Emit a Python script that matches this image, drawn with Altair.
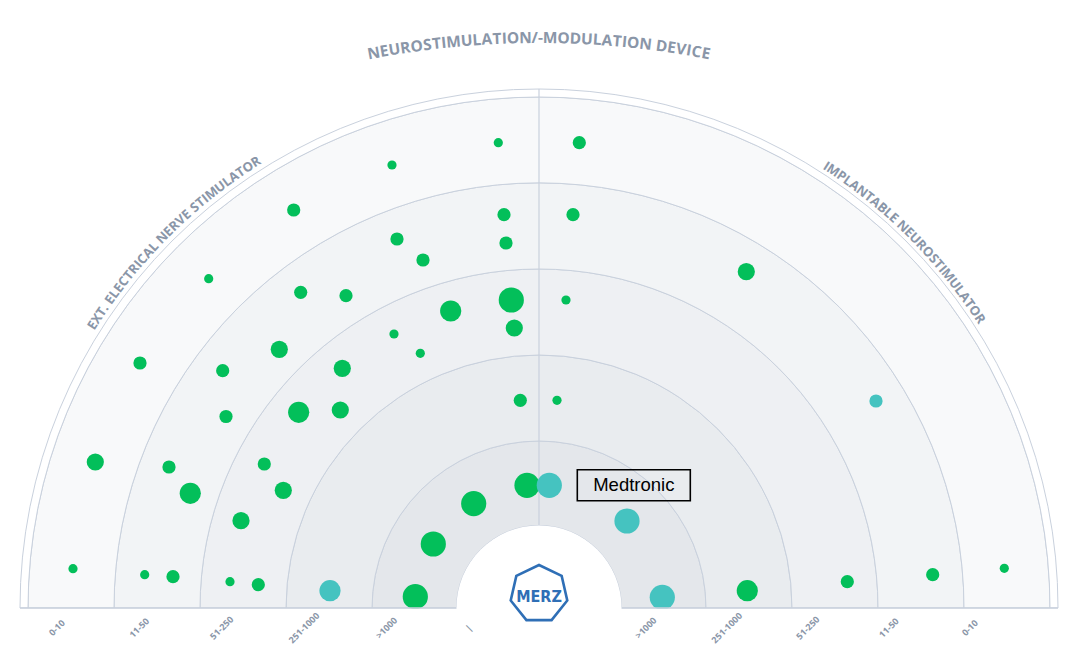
import math
import altair as alt
import pandas as pd

# ------------------------------------------------------------------ data
# bubble positions in chart units (centre of the half-disc = 0,0; y up)
bubble_x = [-40.7, 40.3, -147, -245.3, -35, 34, -142, -33, -116, 207.3,
            -330.3, -238.3, -193, -27.7, 27, -88.3, -24.7, -145, -259.7, -118.7,
            -399, -196.7, -316.3, -18.7, 18, 337, -313, -240.3, -198.7, -443.7,
            -370, -274.7, -12, 10.3, -348.7, -255.7, -65.3, 88, -298, -105.7,
            -466, -394.3, -366, -309, -280.7, -209, -123.7, 123.3, 208.3, 308.3,
            393.7, 465.3]
bubble_y = [465.3, 465.3, 443, 398, 393.3, 393.3, 369, 365, 348, 336.3,
            329.3, 315.7, 312.3, 308, 308, 297, 280, 274, 258.7, 254.7,
            245, 239.7, 237.3, 207.7, 207.7, 207, 191.5, 195.7, 198, 146,
            141, 144, 122.7, 122.7, 114.7, 117.7, 104.3, 87, 87.3, 64,
            39.3, 33.3, 31.3, 26.3, 23.3, 17.3, 11.3, 10.7, 17.3, 26.3,
            33.3, 39.7]
bubble_size = [1, 2, 1, 2, 2, 2, 2, 2, 2, 3,
               1, 2, 2, 5, 1, 4, 3, 1, 3, 1,
               2, 3, 2, 2, 1, 2, 2, 4, 3, 3,
               2, 2, 5, 5, 4, 3, 5, 5, 3, 5,
               1, 1, 2, 1, 2, 4, 5, 5, 4, 2,
               2, 1]
bubble_kind = ["g"] * 52
for i in (25, 33, 37, 45, 47):
    bubble_kind[i] = "t"
bubble_label = [""] * 52
bubble_label[33] = "Medtronic"

left_ticks = ["0-10", "11-50", "51-250", "251-1000", ">1000", "|"]
right_ticks = [">1000", "251-1000", "51-250", "11-50", "0-10"]
title_text = "NEUROSTIMULATION/-MODULATION DEVICE"
left_text = "EXT. ELECTRICAL NERVE STIMULATOR"
right_text = "IMPLANTABLE NEUROSTIMULATOR"
logo_text = "MERZ"

# ------------------------------------------------------------------ layout / style
ring_edges = [82.5, 167, 253, 339, 425, 511, 519]
band_fills = ["#e4e7eb", "#e9ecef", "#eef0f3", "#f2f4f6", "#f8f9fa", "#ffffff"]
LINE = "#c9d1dd"
TXT = "#8a96a8"
GREEN = "#03bf5a"
TEAL = "#45c3c0"

XS = alt.Scale(domain=[-531, 539], nice=False, zero=False)
YS = alt.Scale(domain=[-30, 600], nice=False, zero=False)


def X(f):
    return alt.X(f, type="quantitative", scale=XS, axis=None)


def Y(f):
    return alt.Y(f, type="quantitative", scale=YS, axis=None)


T0, T1 = 1.5 * math.pi, 2.5 * math.pi

bands = pd.DataFrame({
    "r_in": ring_edges[:-1],
    "r_out": ring_edges[1:],
    "fill": band_fills,
})
band_layer = alt.Chart(bands).mark_arc(
    theta=T0, theta2=T1, stroke=LINE, strokeWidth=1
).transform_calculate(cx="0", cy="0").encode(
    x=X("cx"), y=Y("cy"),
    radius=alt.Radius("r_out:Q", scale=None, stack=None),
    radius2=alt.Radius2("r_in:Q"),
    fill=alt.Fill("fill:N", scale=None),
)

vline = alt.Chart(pd.DataFrame({"x": [0], "y1": [ring_edges[0]], "y2": [ring_edges[-1]]})).mark_rule(
    color=LINE, strokeWidth=1.2
).encode(x=X("x"), y=Y("y1"), y2="y2:Q")

bub = pd.DataFrame({
    "x": bubble_x, "y": bubble_y, "s": bubble_size,
    "kind": bubble_kind, "label": bubble_label,
})
# size class -> symbol size (Vega circle: diameter = sqrt(size))
bubbles = alt.Chart(bub).transform_calculate(
    area="pow([0, 9.2, 13.2, 17.2, 21.2, 25.2][datum.s], 2)"
).mark_circle(opacity=1).encode(
    x=X("x"), y=Y("y"),
    size=alt.Size("area:Q", scale=None),
    color=alt.Color("kind:N", scale=alt.Scale(domain=["g", "t"], range=[GREEN, TEAL]), legend=None),
)

cover = alt.Chart(pd.DataFrame({"x1": [-531], "x2": [539], "y1": [-30], "y2": [-0.5]})).mark_rect(
    color="white"
).encode(x=X("x1"), x2="x2:Q", y=Y("y1"), y2="y2:Q")

baseline = alt.Chart(pd.DataFrame({"x1": [-ring_edges[-1]], "x2": [ring_edges[-1]], "y": [0]})).mark_rule(
    color=LINE, strokeWidth=1.5
).encode(x=X("x1"), x2="x2:Q", y=Y("y"))

centre = alt.Chart(pd.DataFrame({"cx": [0], "cy": [0]})).mark_arc(
    theta=0, theta2=2 * math.pi, radius=ring_edges[0], color="white"
).encode(x=X("cx"), y=Y("cy"))

# heptagon outline for the logo
hept = []
for k in range(7):
    a = math.radians(-90 + k * 360 / 7)
    hept.append(f"{math.cos(a):.4f},{math.sin(a):.4f}")
hept_path = "M" + " L".join(hept) + " Z"
logo_df = pd.DataFrame({"x": [0], "y": [14], "t": [logo_text]})
logo_shape = alt.Chart(logo_df).mark_point(
    shape=hept_path, size=3364, filled=False, stroke="#2f6fb6", strokeWidth=2.6, opacity=1
).encode(x=X("x"), y=Y("y"))
logo_txt = alt.Chart(logo_df).mark_text(
    font="Liberation Sans Narrow, DejaVu Sans Condensed, sans-serif", fontWeight="bold",
    fontSize=16, color="#2f6fb6", baseline="middle", align="center", dy=3
).encode(x=X("x"), y=Y("y"), text="t:N")

# tick labels under the baseline
tick_rows = [{"label": t, "side": "L", "k": i} for i, t in enumerate(left_ticks)] + \
            [{"label": t, "side": "R", "k": i} for i, t in enumerate(right_ticks)]
ticks = alt.Chart(pd.DataFrame(tick_rows)).transform_calculate(
    x="datum.side == 'L' ? -482 + 82.4 * datum.k : 107 + 81 * datum.k",
    y="-20",
).mark_text(
    font="Open Sans", fontSize=9, fontWeight="bold", color=TXT, angle=315,
    align="center", baseline="middle"
).encode(x=X("x"), y=Y("y"), text="label:N")

# curved captions, one text mark per character
W = {"A": .69, "B": .66, "C": .63, "D": .71, "E": .56, "F": .53, "G": .72, "H": .74,
     "I": .33, "L": .55, "M": .90, "N": .77, "O": .78, "P": .63, "R": .66, "S": .57,
     "T": .58, "U": .74, "V": .65, "X": .64, " ": .26, ".": .29, "/": .38, "-": .32}


def arc_rows(text, fs, ls, cx, cy, R, pm):
    widths = [W.get(c, 0.6) * fs + ls for c in text]
    total = sum(widths) - ls
    rows, pos = [], 0.0
    for c, w in zip(text, widths):
        mid = pos + (w - ls) / 2
        if c != " ":
            rows.append({"ch": c, "s": mid - total / 2, "fs": fs,
                         "cx": cx, "cy": cy, "R": R, "pm": pm})
        pos += w
    return rows


arc_df = pd.DataFrame(
    arc_rows(title_text, 15.5, 0.3, 0, -330, 900, 90)
    + arc_rows(left_text, 13, 0.15, 0, 0, 528, 135)
    + arc_rows(right_text, 13, 0.1, 0, 0, 527, 45)
)
captions = alt.Chart(arc_df).transform_calculate(
    phi="datum.pm - datum.s / datum.R * 180 / PI",
).transform_calculate(
    x="datum.cx + datum.R * cos(datum.phi * PI / 180)",
    y="datum.cy + datum.R * sin(datum.phi * PI / 180)",
    rot="((90 - datum.phi) % 360 + 360) % 360",
).mark_text(
    font="Open Sans", fontWeight="bold", color=TXT, align="center", baseline="middle"
).encode(
    x=X("x"), y=Y("y"), text="ch:N",
    angle=alt.Angle("rot:Q", scale=None),
    size=alt.Size("fs:Q", scale=None),
)

# Medtronic call-out box
lab = alt.Chart(bub).transform_filter("datum.label != ''").transform_calculate(
    bx1="datum.x + 28", bx2="datum.x + 141", by1="datum.y - 15.5", by2="datum.y + 15.5",
    tx="datum.x + 84.5",
)
lab_box = lab.mark_rect(fillOpacity=0, stroke="black", strokeWidth=1.6).encode(
    x=X("bx1"), x2="bx2:Q", y=Y("by1"), y2="by2:Q"
)
lab_txt = lab.mark_text(
    font="Liberation Sans, Arial, sans-serif", fontSize=18.5, color="black",
    align="center", baseline="middle"
).encode(x=X("tx"), y=Y("y"), text="label:N")

chart = alt.layer(
    band_layer, vline, bubbles, cover, baseline, centre,
    logo_shape, logo_txt, ticks, captions, lab_box, lab_txt
).properties(
    width=1070, height=630, padding=0, background="white"
).configure_view(stroke=None)

chart.save("out.html", embed_options={"renderer": "svg", "actions": False})
